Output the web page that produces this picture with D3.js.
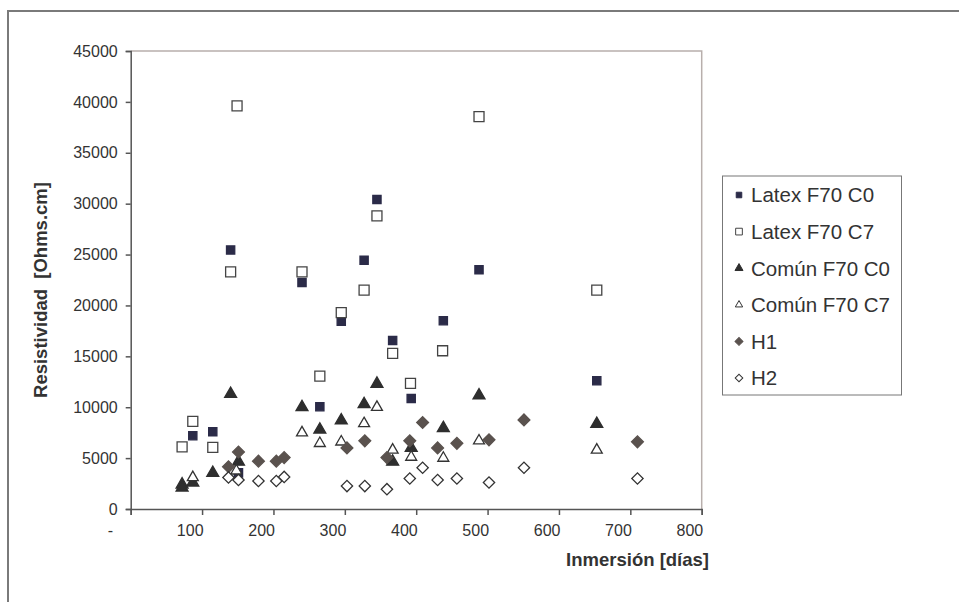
<!DOCTYPE html>
<html>
<head>
<meta charset="utf-8">
<script src="https://cdn.jsdelivr.net/npm/d3@7"></script>
<style>
	body { margin:0; background:#fff; }
	svg text { font-family: "Liberation Sans", Arial, sans-serif; fill:#333; }
</style>
</head>
<body>
<div id="chart"></div>
<script>
// Data: [days, ohms.cm]
var latexC0 = [[87,7200],[115,7600],[140,25450],[151,3550],[240,22250],[265,10050],[295,18450],[327,24450],[345,30400],[367,16550],[393,10850],[438,18500],[488,23500],[653,12600]];
var latexC7 = [[72,6100],[87,8600],[115,6050],[140,23300],[149,39600],[240,23300],[265,13050],[295,19300],[327,21500],[345,28800],[367,15300],[392,12350],[437,15550],[488,38550],[653,21500]];
var comunC0 = [[72,2400],[72,2100],[87,2600],[115,3550],[140,11300],[151,4650],[240,10000],[265,7800],[295,8700],[327,10300],[345,12300],[367,4650],[393,6000],[438,7950],[488,11150],[653,8350]];
var comunC7 = [[87,3100],[148,3750],[240,7500],[265,6450],[295,6600],[327,8400],[345,10000],[367,5800],[393,5100],[438,5000],[488,6700],[653,5800]];
var h1 = [[137,4150],[151,5600],[179,4700],[204,4700],[215,5050],[303,6000],[328,6700],[359,5050],[391,6700],[409,8500],[430,6000],[457,6450],[502,6800],[551,8750],[710,6600]];
var h2 = [[137,3100],[151,2850],[179,2750],[204,2750],[215,3150],[303,2250],[328,2250],[359,1950],[391,3000],[409,4050],[430,2850],[457,3000],[502,2600],[551,4050],[710,3000]];

var seriesNames = ["Latex F70 C0", "Latex F70 C7", "Común F70 C0", "Común F70 C7", "H1", "H2"];
var xTicks = [0, 100, 200, 300, 400, 500, 600, 700, 800];
var yTicks = [0, 5000, 10000, 15000, 20000, 25000, 30000, 35000, 40000, 45000];

var series = [
	{name: seriesNames[0], data: latexC0, shape: d3.symbolSquare, size: 68, rot: 0, fill: "#2b2b48", stroke: "#2b2b48"},
	{name: seriesNames[1], data: latexC7, shape: d3.symbolSquare, size: 100, rot: 0, fill: "#fff", stroke: "#444"},
	{name: seriesNames[2], data: comunC0, shape: d3.symbolTriangle, size: 62, rot: 0, fill: "#2e2e2e", stroke: "#2e2e2e"},
	{name: seriesNames[3], data: comunC7, shape: d3.symbolTriangle, size: 52, rot: 0, fill: "#fff", stroke: "#333"},
	{name: seriesNames[4], data: h1, shape: d3.symbolSquare, size: 70, rot: 45, fill: "#5a524e", stroke: "#5a524e"},
	{name: seriesNames[5], data: h2, shape: d3.symbolSquare, size: 64, rot: 45, fill: "#fff", stroke: "#333"}
];

var width = 959, height = 602;
var plot = {left: 130.7, right: 701.7, top: 51, bottom: 509};

var svg = d3.select("#chart").append("svg")
	.attr("width", width)
	.attr("height", height);

// outer chart border (clipped by window on right and bottom)
svg.append("rect")
	.attr("x", 8).attr("y", 11)
	.attr("width", 1000).attr("height", 700)
	.attr("fill", "none")
	.attr("stroke", "#7a7a7a")
	.attr("stroke-width", 2);

var x = d3.scaleLinear().domain([0, 800]).range([plot.left, plot.right]);
var y = d3.scaleLinear().domain([0, 45000]).range([plot.bottom, plot.top]);

// plot area top / right border
svg.append("path")
	.attr("d", "M" + plot.left + "," + plot.top + "H" + plot.right + "V" + plot.bottom)
	.attr("fill", "none")
	.attr("stroke", "#b8afac")
	.attr("stroke-width", 1.5);

// Y axis
var yAxis = svg.append("g")
	.attr("transform", "translate(" + plot.left + ",0)")
	.call(d3.axisLeft(y).tickValues(yTicks).tickSize(5).tickPadding(8).tickFormat(d3.format("d")));
yAxis.selectAll("text").attr("font-size", "16px").attr("fill", "#333");

// X axis, accounting style labels right-aligned to the ticks
var xAxis = svg.append("g")
	.attr("transform", "translate(0," + plot.bottom + ")")
	.call(d3.axisBottom(x).tickValues(xTicks).tickSize(6).tickPadding(10)
		.tickFormat(function(d){ return d === 0 ? "-" : d; }));
xAxis.selectAll("text")
	.attr("font-size", "16px")
	.attr("fill", "#333")
	.attr("text-anchor", "end")
	.attr("dx", function(d){ return d === 0 ? "-18" : "1"; });

svg.selectAll(".domain, .tick line").attr("stroke", "#555").attr("stroke-width", 1.5);

// Axis titles
svg.append("text")
	.attr("x", 709).attr("y", 566)
	.attr("text-anchor", "end")
	.attr("font-size", "18.5px")
	.attr("font-weight", "bold")
	.text("Inmersión [días]");

svg.append("text")
	.attr("transform", "translate(47,290) rotate(-90)")
	.attr("text-anchor", "middle")
	.attr("font-size", "18.5px")
	.attr("font-weight", "bold")
	.style("white-space", "pre")
	.text("Resistividad  [Ohms.cm]");

// Points
series.forEach(function(s){
	var sym = d3.symbol().type(s.shape).size(s.size);
	svg.append("g").selectAll("path")
		.data(s.data)
		.enter().append("path")
		.attr("d", sym)
		.attr("transform", function(d){ return "translate(" + x(d[0]) + "," + y(d[1]) + ") rotate(" + s.rot + ")"; })
		.attr("fill", s.fill)
		.attr("stroke", s.stroke)
		.attr("stroke-width", 1.3);
});

// Legend
var legend = svg.append("g");
legend.append("rect")
	.attr("x", 722.5).attr("y", 176)
	.attr("width", 179).attr("height", 219)
	.attr("fill", "#fff")
	.attr("stroke", "#777")
	.attr("stroke-width", 1);

var items = legend.selectAll("g.item")
	.data(series)
	.enter().append("g")
	.attr("class", "item")
	.attr("transform", function(d, i){ return "translate(739," + (195 + i * 36.6) + ") rotate(" + d.rot + ")"; });
items.append("path")
	.attr("d", function(d){ return d3.symbol().type(d.shape).size(d.size * 0.45)(); })
	.attr("fill", function(d){ return d.fill; })
	.attr("stroke", function(d){ return d.stroke; })
	.attr("stroke-width", 1);
legend.selectAll("text.item")
	.data(series)
	.enter().append("text")
	.attr("class", "item")
	.attr("x", 751)
	.attr("y", function(d, i){ return 195 + i * 36.6; })
	.attr("dy", "0.36em")
	.attr("font-size", "20.5px")
	.attr("fill", "#333")
	.text(function(d){ return d.name; });
</script>
</body>
</html>
